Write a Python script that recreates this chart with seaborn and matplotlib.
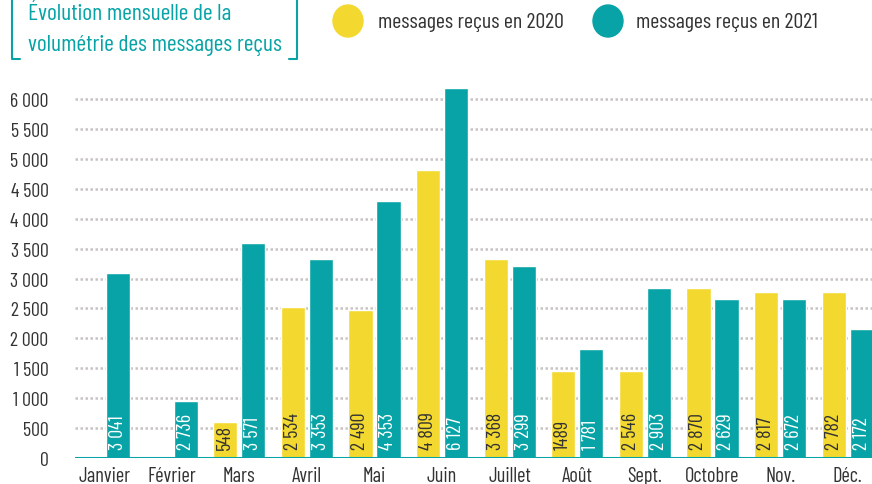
import pandas as pd
import matplotlib.pyplot as plt
import seaborn as sns
from matplotlib import font_manager
from matplotlib.patches import Ellipse
from matplotlib.lines import Line2D

# Données : volumétrie mensuelle des messages reçus
mois = ["Janvier", "Février", "Mars", "Avril", "Mai", "Juin",
        "Juillet", "Août", "Sept.", "Octobre", "Nov.", "Déc."]
hauteurs_2020 = [0, 0, 600, 2525, 2480, 4820, 3325, 1460, 1455, 2840, 2775, 2775]
hauteurs_2021 = [3090, 950, 3590, 3325, 4295, 6185, 3210, 1820, 2840, 2655, 2655, 2155]
etiquettes_2020 = ["", "", "548", "2 534", "2 490", "4 809", "3 368", "1489",
                   "2 546", "2 870", "2 817", "2 782"]
etiquettes_2021 = ["3 041", "2 736", "3 571", "3 353", "4 353", "6 127", "3 299",
                   "1 781", "2 903", "2 629", "2 672", "2 172"]
graduations = [0, 500, 1000, 1500, 2000, 2500, 3000, 3500, 4000, 4500, 5000, 5500, 6000]
series = ["messages reçus en 2020", "messages reçus en 2021"]

JAUNE = "#F3D92F"
TURQUOISE = "#08A3A6"
GRIS = "#333333"

sns.set_style("white")
installees = {f.name for f in font_manager.fontManager.ttflist}
candidates = ["Barlow Condensed", "Barlow Semi Condensed", "Roboto Condensed",
              "Liberation Sans Narrow", "DejaVu Sans"]
police = next(c for c in candidates if c in installees)
plt.rcParams["font.family"] = [police, "DejaVu Sans"]

df = pd.DataFrame({
    "mois": mois * 2,
    "valeur": hauteurs_2020 + hauteurs_2021,
    "serie": [series[0]] * 12 + [series[1]] * 12,
})

fig = plt.figure(figsize=(8.72, 4.85), dpi=100)
ax = fig.add_axes([75 / 872, 26 / 485, 797 / 872, 379 / 485])

sns.barplot(data=df, x="mois", y="valeur", hue="serie", hue_order=series,
            palette={series[0]: JAUNE, series[1]: TURQUOISE}, saturation=1,
            width=0.83, gap=0.14, legend=False, ax=ax, errorbar=None)

ax.set_xlim(-0.43, 11.36)
ax.set_ylim(0, 6335)
ax.set_yticks(graduations)
ax.set_yticklabels([f"{v:,}".replace(",", " ") for v in graduations])
ax.set_xlabel("")
ax.set_ylabel("")
for s in ax.spines.values():
    s.set_visible(False)
ax.tick_params(axis="y", length=0, pad=19, labelsize=14.3, labelcolor=GRIS)
ax.tick_params(axis="x", length=0, pad=6, labelsize=14.7, labelcolor=GRIS)
ax.yaxis.grid(True, linestyle=(0, (1, 1)), color="#C9C3C3", linewidth=1.8)
ax.xaxis.grid(False)
ax.set_axisbelow(True)
ax.axhline(0, color=TURQUOISE, linewidth=2.2, zorder=3)

# Étiquettes verticales dans les barres
for conteneur, etiquettes, couleur in [(ax.containers[0], etiquettes_2020, GRIS),
                                       (ax.containers[1], etiquettes_2021, "white")]:
    for barre, txt in zip(conteneur.patches, etiquettes):
        if txt:
            ax.text(barre.get_x() + barre.get_width() / 2, 150, txt, rotation=90,
                    ha="center", va="bottom", fontsize=14.5, color=couleur, zorder=4)

# Titre encadré
fig.text(28 / 872, 1 - 15 / 485, "Évolution mensuelle de la", fontsize=17,
         color=TURQUOISE, va="center", ha="left")
fig.text(28 / 872, 1 - 45 / 485, "volumétrie des messages reçus", fontsize=17,
         color=TURQUOISE, va="center", ha="left")
for xs, ys in [([12, 12, 20], [0, 60, 60]), ([297, 297, 289], [0, 60, 60])]:
    fig.add_artist(Line2D([x / 872 for x in xs], [1 - y / 485 for y in ys],
                          transform=fig.transFigure, color=TURQUOISE, linewidth=1.5))

# Légende
for cx, tx, couleur, nom in [(348, 378, JAUNE, series[0]), (608, 636, TURQUOISE, series[1])]:
    fig.add_artist(Ellipse((cx / 100, (485 - 22) / 100), 0.30, 0.32,
                           transform=fig.dpi_scale_trans, color=couleur))
    fig.text(tx / 872, 1 - 22 / 485, nom, fontsize=15.8, color=GRIS, va="center", ha="left")

plt.savefig("out.png", dpi=100)
plt.close()
